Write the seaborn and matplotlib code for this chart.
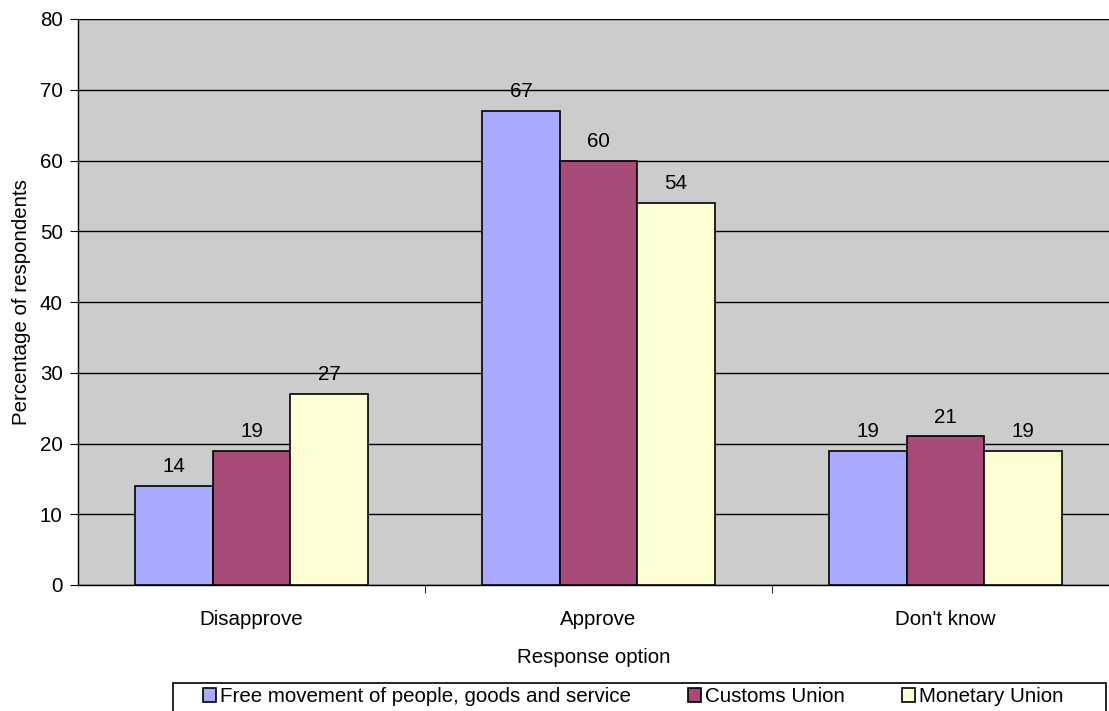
import pandas as pd
import matplotlib.pyplot as plt
import seaborn as sns

categories = ['Disapprove', 'Approve', "Don't know"]
series = ['Free movement of people, goods and service', 'Customs Union', 'Monetary Union']
free_movement = [14, 67, 19]
customs_union = [19, 60, 21]
monetary_union = [27, 54, 19]
colors = ['#AAAAFF', '#A64A78', '#FFFFD5']

rows = []
for name, vals in zip(series, [free_movement, customs_union, monetary_union]):
    for cat, v in zip(categories, vals):
        rows.append({'Response option': cat, 'Series': name, 'Value': v})
df = pd.DataFrame(rows)

sns.set_style('white')
plt.rcParams['font.family'] = ['Liberation Sans', 'DejaVu Sans']
plt.rcParams['text.color'] = 'black'
plt.rcParams['axes.labelcolor'] = 'black'
plt.rcParams['xtick.color'] = 'black'
plt.rcParams['ytick.color'] = 'black'
fs = 14.8

fig = plt.figure(figsize=(11.09, 7.11), dpi=100)
ax = fig.add_axes([78 / 1109, 1 - 585 / 711, (1109 - 78) / 1109, (585 - 19) / 711])
ax.set_facecolor('#CCCCCC')

sns.barplot(data=df, x='Response option', y='Value', hue='Series', palette=colors,
            saturation=1, width=0.67, edgecolor='black', linewidth=1.2, ax=ax,
            legend=False, zorder=3)

for cont in ax.containers:
    ax.bar_label(cont, padding=7, fontsize=fs)

ax.set_ylim(0, 80)
ax.set_yticks(range(0, 81, 10))
ax.set_xlim(-0.5, 2.5 - 10 / 347)
ax.yaxis.grid(True, color='black', linewidth=1)
ax.set_axisbelow(True)
ax.set_xticks([0.5, 1.5], minor=True)
ax.tick_params(axis='x', which='major', length=0, pad=18, labelsize=fs)
ax.tick_params(axis='x', which='minor', length=6, direction='out', color='black', bottom=True)
ax.tick_params(axis='y', length=6, direction='out', color='black', left=True, labelsize=fs, pad=5)

for s in ['top', 'right']:
    ax.spines[s].set_visible(False)
for s in ['left', 'bottom']:
    ax.spines[s].set_color('black')
    ax.spines[s].set_linewidth(1)

ax.set_xlabel('Response option', fontsize=fs, labelpad=14)
ax.set_ylabel('Percentage of respondents', fontsize=fs, labelpad=6)

# legend box, clipped by the figure edge like the original
fig.patches.append(plt.Rectangle((173 / 1109, -0.02), (1106 - 173) / 1109, (711 - 683) / 711 + 0.02,
                                 transform=fig.transFigure, facecolor='white',
                                 edgecolor='black', linewidth=1.2))
handles = [plt.Rectangle((0, 0), 1, 1, facecolor=c, edgecolor='black', linewidth=1.2) for c in colors]
leg = fig.legend(handles, series, loc='center left', bbox_to_anchor=(203 / 1109, 1 - 697 / 711),
                 ncol=3, fontsize=fs, frameon=False,
                 handlelength=0.65, handleheight=0.65, handletextpad=0.2, columnspacing=2.75,
                 borderpad=0, borderaxespad=0)

fig.savefig('out.png', dpi=100)
